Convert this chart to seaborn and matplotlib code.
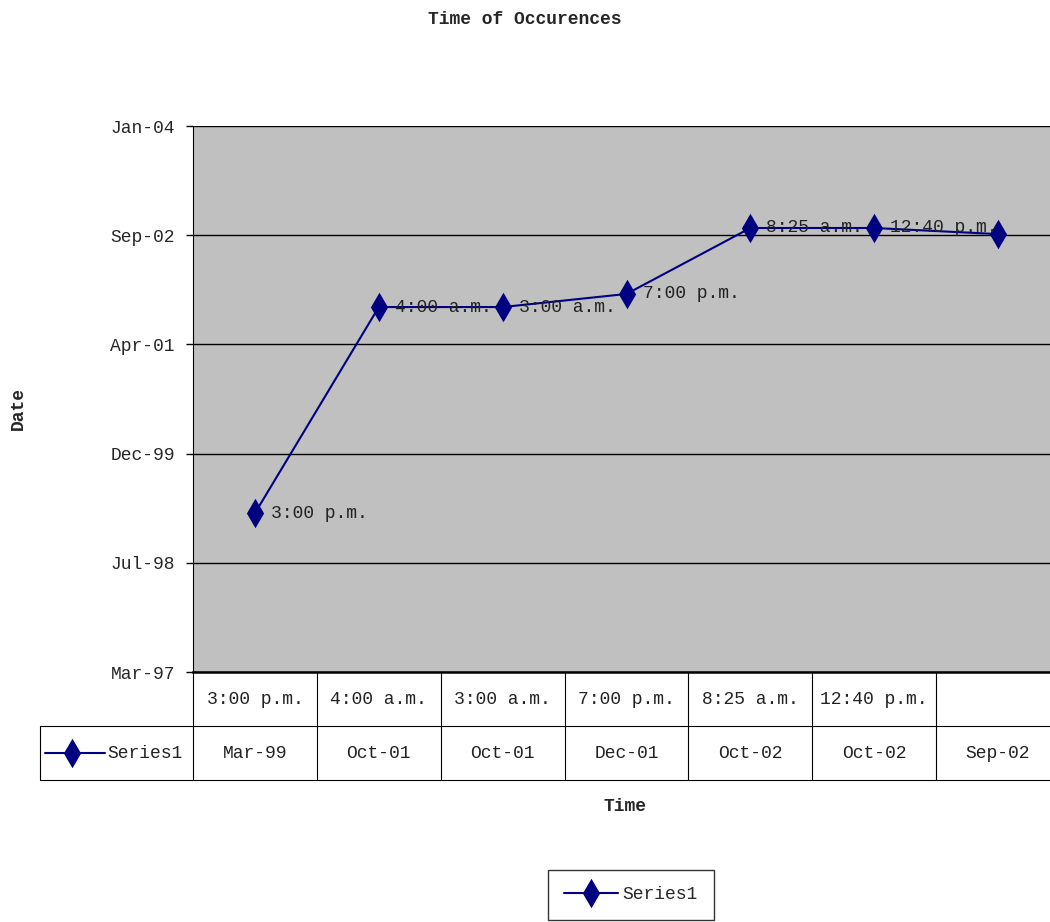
import matplotlib
matplotlib.use("Agg")
import matplotlib.pyplot as plt
import matplotlib.dates as mdates
from matplotlib.lines import Line2D
import pandas as pd
import seaborn as sns

# data
times = ["3:00 p.m.", "4:00 a.m.", "3:00 a.m.", "7:00 p.m.", "8:25 a.m.", "12:40 p.m.", ""]
dates = ["1999-03-08", "2001-10-07", "2001-10-07", "2001-12-06",
         "2002-10-04", "2002-10-04", "2002-09-06"]
y_ticks = ["1997-03-11", "1998-07-24", "1999-12-06", "2001-04-19",
           "2002-09-01", "2004-01-14"]
series_name = "Series1"

navy = "#000080"
W, H = 1050, 922
fs = 13

df = pd.DataFrame({"pos": range(len(times)),
                   "date": mdates.date2num(pd.to_datetime(dates)),
                   "time": times})
date_labels = pd.to_datetime(dates).strftime("%b-%y")
tick_nums = mdates.date2num(pd.to_datetime(y_ticks))

sns.set_style("white")
plt.rcParams["font.family"] = ["Liberation Mono", "DejaVu Sans"]

fig = plt.figure(figsize=(W / 100, H / 100), dpi=100)

mk = dict(marker="d", markersize=12, markeredgewidth=2, markeredgecolor=navy)

# main plot area
ax = fig.add_axes([193 / W, 1 - 672 / H, 867 / W, 546 / H])
ax.set_facecolor("#C0C0C0")
sns.lineplot(data=df, x="pos", y="date", ax=ax, color=navy, linewidth=1.5,
             sort=False, legend=False, **mk)
for _, row in df.iterrows():
    if row["time"]:
        ax.text(row["pos"] + 0.13, row["date"], row["time"], ha="left",
                va="center", fontsize=fs, color="#222222")

ax.set_xlim(-0.5, len(times) - 0.5)
ax.set_ylim(tick_nums[0], tick_nums[-1])
ax.set_yticks(tick_nums)
ax.yaxis.set_major_formatter(mdates.DateFormatter("%b-%y"))
ax.set_xticks([])
ax.grid(axis="y", color="black", linewidth=1)
ax.tick_params(axis="y", direction="out", length=5, width=1, color="black",
               labelsize=fs, pad=8, left=True)
ax.set_xlabel("")
ax.set_ylabel("")
for side in ["top", "right"]:
    ax.spines[side].set_visible(False)
ax.spines["left"].set_color("black")
ax.spines["bottom"].set_color("black")
ax.spines["bottom"].set_linewidth(1.8)

# data table below the plot
tax = fig.add_axes([193 / W, 1 - 780 / H, 867 / W, 108 / H])
tax.set_xlim(-0.5, len(times) - 0.5)
tax.set_ylim(0, 2)
tax.axis("off")
hdr = -1.735
lc = dict(color="black", linewidth=0.8, clip_on=False)
for k in range(len(times) + 1):
    tax.plot([k - 0.5, k - 0.5], [0, 2], **lc)
tax.plot([hdr, len(times) - 0.5], [0, 0], **lc)
tax.plot([hdr, len(times) - 0.5], [1, 1], **lc)
tax.plot([hdr, hdr], [0, 1], **lc)
for i in range(len(times)):
    tax.text(i, 1.5, times[i], ha="center", va="center", fontsize=fs, color="#222222")
    tax.text(i, 0.5, date_labels[i], ha="center", va="center", fontsize=fs, color="#222222")
tax.plot([-1.695, -1.21], [0.5, 0.5], color=navy, linewidth=1.5, clip_on=False)
tax.plot([-1.477], [0.5], color=navy, clip_on=False, **mk)
tax.text(-1.19, 0.5, series_name, ha="left", va="center", fontsize=fs, color="#222222")

# titles and labels
fig.text(525 / W, 1 - 20 / H, "Time of Occurences", ha="center", va="center",
         fontsize=fs, fontweight="bold")
fig.text(18 / W, 1 - 408 / H, "Date", ha="center", va="center", rotation=90,
         fontsize=fs, fontweight="bold")
fig.text(625 / W, 1 - 806 / H, "Time", ha="center", va="center",
         fontsize=fs, fontweight="bold")

handle = Line2D([], [], color=navy, linewidth=1.5, **mk)
fig.legend([handle], [series_name], loc="upper left",
           bbox_to_anchor=(548 / W, 1 - 870 / H), frameon=True, fancybox=False,
           edgecolor="black", fontsize=fs, handlelength=3.0, handletextpad=0.2,
           borderaxespad=0, borderpad=0.9)

fig.savefig("out.png", dpi=100)
